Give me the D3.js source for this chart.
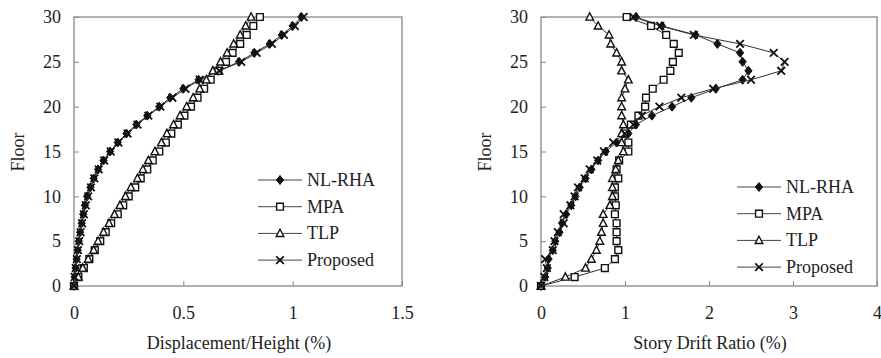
<!DOCTYPE html>
<html>
<head>
<meta charset="utf-8">
<script src="https://cdn.jsdelivr.net/npm/d3@7"></script>
<style>
  body { margin: 0; background: #fff; }
  text { font-family: "Liberation Serif", "Times New Roman", serif; fill: #222; }
</style>
</head>
<body>
<script>
// Width and Height of the whole picture
var width = 881;
var height = 358;

// floors 0..30
var floors = [0,1,2,3,4,5,6,7,8,9,10,11,12,13,14,15,16,17,18,19,20,21,22,23,24,25,26,27,28,29,30];

var seriesNames = ["NL-RHA", "MPA", "TLP", "Proposed"];

// left panel : displacement / height (%)
var dispNLRHA = [0,0.003,0.007,0.012,0.017,0.022,0.028,0.035,0.042,0.05,0.06,0.075,0.09,0.11,0.135,0.165,0.2,0.24,0.285,0.335,0.39,0.44,0.5,0.57,0.66,0.755,0.825,0.895,0.95,1.0,1.04];
var dispMPA = [0,0.02,0.045,0.07,0.095,0.12,0.145,0.17,0.2,0.225,0.25,0.28,0.305,0.335,0.36,0.39,0.42,0.445,0.475,0.505,0.535,0.565,0.595,0.625,0.66,0.695,0.725,0.76,0.79,0.82,0.85];
var dispTLP = [0,0.02,0.04,0.065,0.09,0.11,0.135,0.16,0.185,0.21,0.235,0.26,0.29,0.315,0.34,0.37,0.4,0.425,0.455,0.485,0.515,0.545,0.575,0.605,0.635,0.67,0.7,0.73,0.76,0.785,0.81];
var dispProposed = [0,0.003,0.008,0.013,0.018,0.024,0.03,0.037,0.045,0.054,0.065,0.078,0.093,0.113,0.138,0.168,0.203,0.245,0.29,0.34,0.395,0.45,0.51,0.575,0.665,0.765,0.835,0.905,0.96,1.01,1.05];

// right panel : story drift ratio (%)
var driftNLRHA = [0,0.05,0.08,0.09,0.14,0.17,0.22,0.25,0.3,0.36,0.41,0.46,0.53,0.6,0.68,0.77,0.9,1.04,1.13,1.32,1.56,1.79,2.08,2.4,2.47,2.4,2.37,2.1,1.84,1.44,1.13];
var driftMPA = [0,0.4,0.76,0.88,0.92,0.9,0.9,0.9,0.88,0.89,0.88,0.88,0.92,0.9,0.93,1.04,1.04,0.99,1.07,1.16,1.24,1.25,1.33,1.46,1.54,1.57,1.64,1.58,1.49,1.31,1.02];
var driftTLP = [0,0.29,0.53,0.6,0.66,0.7,0.72,0.74,0.74,0.82,0.85,0.85,0.85,0.89,0.92,0.98,0.96,0.96,0.98,0.96,0.96,0.96,1.0,1.04,0.96,0.96,0.9,0.83,0.81,0.68,0.58];
var driftProposed = [0,0.04,0.07,0.05,0.14,0.16,0.2,0.27,0.27,0.35,0.4,0.44,0.52,0.58,0.67,0.75,0.86,1.0,1.1,1.2,1.41,1.67,2.05,2.5,2.86,2.9,2.77,2.37,1.82,1.42,1.1];

var dispTicks = [0, 0.5, 1, 1.5];
var driftTicks = [0, 1, 2, 3, 4];
var floorTicks = [0, 5, 10, 15, 20, 25, 30];

var svg = d3.select("body")
    .append("svg")
    .attr("width", width)
    .attr("height", height);

svg.append("rect").attr("width", width).attr("height", height).attr("fill", "#fff");

// marker shapes
var markers = {
  "NL-RHA":   { d: "M0,-4.5L3.6,0L0,4.5L-3.6,0Z", fill: "#111", stroke: "#111", sw: 1 },
  "MPA":      { d: "M-3.4,-3.4H3.4V3.4H-3.4Z", fill: "#fff", stroke: "#111", sw: 1.4 },
  "TLP":      { d: "M0,-4.2L3.8,3.1H-3.8Z", fill: "#fff", stroke: "#111", sw: 1.4 },
  "Proposed": { d: "M-3.8,-3.8L3.8,3.8M-3.8,3.8L3.8,-3.8", fill: "none", stroke: "#111", sw: 1.8 }
};

function drawPanel(cfg) {
  var x = d3.scaleLinear().domain(cfg.xDomain).range([cfg.left, cfg.right]);
  var y = d3.scaleLinear().domain([0, 30]).range([286, 17]);

  var g = svg.append("g");

  // axes with inward ticks
  g.append("g")
      .attr("transform", "translate(0,286)")
      .call(d3.axisBottom(x).tickValues(cfg.xTicks).tickSize(-5).tickPadding(20)
            .tickFormat(function(d){ return String(d); }))
      .call(function(a){
        a.select(".domain").remove();
        a.selectAll("line").attr("stroke", "#888");
        a.selectAll("text").attr("font-size", 18).attr("font-family", "Liberation Serif");
      });

  g.append("g")
      .attr("transform", "translate(" + cfg.left + ",0)")
      .call(d3.axisLeft(y).tickValues(floorTicks).tickSize(-5).tickPadding(13))
      .call(function(a){
        a.select(".domain").remove();
        a.selectAll("line").attr("stroke", "#888");
        a.selectAll("text").attr("font-size", 18).attr("font-family", "Liberation Serif");
      });

  // frame
  g.append("rect")
      .attr("x", cfg.left).attr("y", 17)
      .attr("width", cfg.right - cfg.left).attr("height", 286 - 17)
      .attr("fill", "none").attr("stroke", "#888").attr("stroke-width", 1.3);

  // axis titles
  g.append("text")
      .attr("x", (cfg.left + cfg.right) / 2 + cfg.titleShift).attr("y", 349)
      .attr("text-anchor", "middle").attr("font-size", 18)
      .text(cfg.xTitle);
  g.append("text")
      .attr("transform", "translate(" + (cfg.floorX) + ",152) rotate(-90)")
      .attr("text-anchor", "middle").attr("font-size", 18)
      .text("Floor");

  var line = d3.line()
      .x(function(d){ return x(d[0]); })
      .y(function(d){ return y(d[1]); });

  cfg.series.forEach(function(vals, i) {
    var name = seriesNames[i];
    var pts = vals.map(function(v, j){ return [v, floors[j]]; });
    g.append("path")
        .datum(pts)
        .attr("fill", "none")
        .attr("stroke", "#333")
        .attr("stroke-width", 1)
        .attr("d", line);
    g.selectAll(".m" + i)
        .data(pts)
        .enter().append("path")
        .attr("class", "m" + i)
        .attr("transform", function(d){ return "translate(" + x(d[0]) + "," + y(d[1]) + ")"; })
        .attr("d", markers[name].d)
        .attr("fill", markers[name].fill)
        .attr("stroke", markers[name].stroke)
        .attr("stroke-width", markers[name].sw);
  });

  // legend
  seriesNames.forEach(function(name, i) {
    var ly = cfg.legendY + i * 26.7;
    g.append("line")
        .attr("x1", cfg.legendX).attr("x2", cfg.legendX + 44)
        .attr("y1", ly).attr("y2", ly)
        .attr("stroke", "#444").attr("stroke-width", 1);
    g.append("path")
        .attr("transform", "translate(" + (cfg.legendX + 22) + "," + ly + ")")
        .attr("d", markers[name].d)
        .attr("fill", markers[name].fill)
        .attr("stroke", markers[name].stroke)
        .attr("stroke-width", markers[name].sw);
    g.append("text")
        .attr("x", cfg.legendX + 49).attr("y", ly + 6)
        .attr("font-size", 18)
        .text(name);
  });
}

drawPanel({
  left: 74, right: 402, xDomain: [0, 1.5], xTicks: dispTicks,
  xTitle: "Displacement/Height (%)", titleShift: 1, floorX: 24,
  series: [dispNLRHA, dispMPA, dispTLP, dispProposed],
  legendX: 258, legendY: 180
});

drawPanel({
  left: 541, right: 877, xDomain: [0, 4], xTicks: driftTicks,
  xTitle: "Story Drift Ratio (%)", titleShift: 1, floorX: 491,
  series: [driftNLRHA, driftMPA, driftTLP, driftProposed],
  legendX: 737, legendY: 187
});
</script>
</body>
</html>
